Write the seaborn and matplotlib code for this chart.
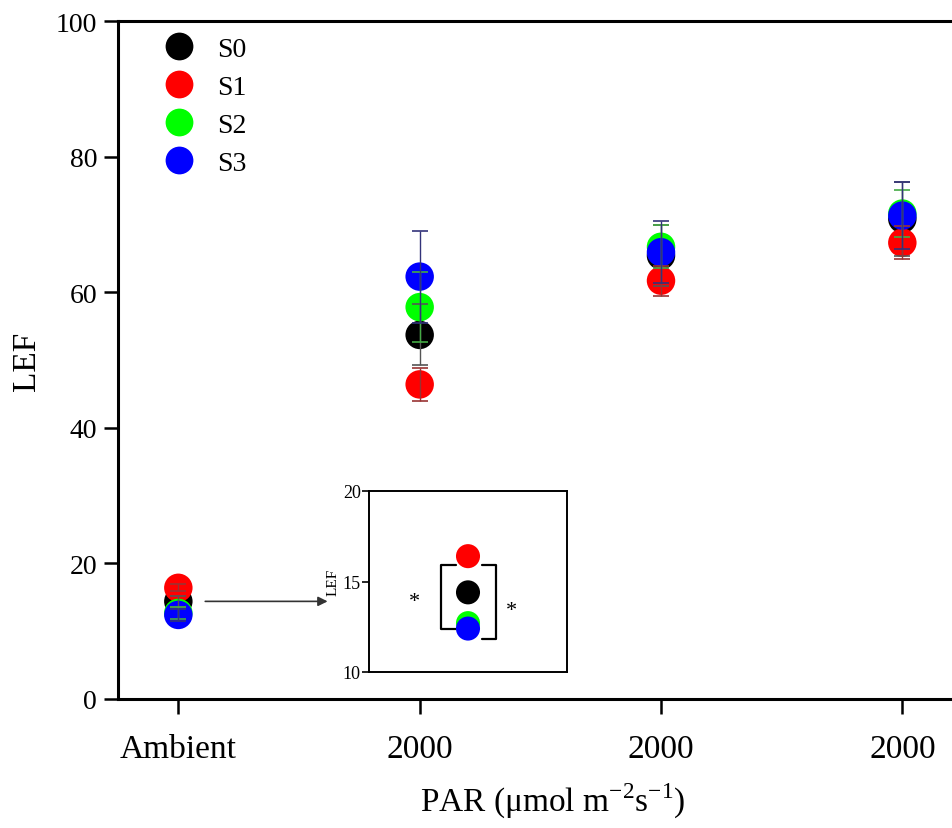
import matplotlib
matplotlib.use('Agg')
import matplotlib.pyplot as plt
from matplotlib.lines import Line2D
import seaborn as sns
import numpy as np
import pandas as pd

# 数据：四个处理在四个光强下的 LEF 均值与误差
x_labels = ['Ambient', '2000', '2000', '2000']
series = ['S0', 'S1', 'S2', 'S3']
colors = {'S0': '#000000', 'S1': '#ff0000', 'S2': '#00ff00', 'S3': '#0000ff'}
err_colors = {'S0': '#555555', 'S1': '#993333', 'S2': '#44aa44', 'S3': '#33337a'}

s0_mean = [14.4, 53.7, 65.4, 70.8]
s1_mean = [16.4, 46.4, 61.7, 67.3]
s2_mean = [12.7, 57.8, 66.7, 71.6]
s3_mean = [12.4, 62.3, 65.9, 71.3]

s0_err = [0.8, 4.5, 4.5, 5.5]
s1_err = [0.5, 2.4, 2.2, 2.4]
s2_err = [0.9, 5.2, 3.2, 3.5]
s3_err = [0.9, 6.8, 4.6, 5.0]

means = {'S0': s0_mean, 'S1': s1_mean, 'S2': s2_mean, 'S3': s3_mean}
errs = {'S0': s0_err, 'S1': s1_err, 'S2': s2_err, 'S3': s3_err}

rows = []
for s in series:
    for i in range(len(x_labels)):
        rows.append({'pos': i, 'series': s, 'LEF': means[s][i], 'err': errs[s][i]})
df = pd.DataFrame(rows)

sns.set_theme(style='ticks')
plt.rcParams['font.family'] = ['Liberation Serif', 'DejaVu Serif']
plt.rcParams['mathtext.fontset'] = 'custom'
plt.rcParams['mathtext.rm'] = 'Liberation Serif'
plt.rcParams['text.color'] = 'black'
plt.rcParams['axes.labelcolor'] = 'black'
plt.rcParams['xtick.color'] = 'black'
plt.rcParams['ytick.color'] = 'black'

fig = plt.figure(figsize=(9.52, 8.29), dpi=100)
ax = fig.add_axes([118 / 952, 129 / 829, 905 / 952, 678 / 829])

sns.scatterplot(data=df, x='pos', y='LEF', hue='series', palette=colors,
                s=420, edgecolor='none', legend=False, ax=ax, zorder=3)
for s in series:
    d = df[df['series'] == s]
    ax.errorbar(d['pos'], d['LEF'], yerr=d['err'], fmt='none', ecolor=err_colors[s],
                elinewidth=1.0, capsize=6, capthick=1.2, zorder=4)

ax.set_xlim(-0.25, 3.5)
ax.set_ylim(0, 100)
ax.set_xticks(range(len(x_labels)))
ax.set_xticklabels(x_labels, fontsize=24)
ax.set_yticks(np.arange(0, 101, 20))
ax.tick_params(axis='y', labelsize=20, length=10, width=1.8, direction='out', pad=5)
ax.tick_params(axis='x', length=11, width=1.8, direction='out', pad=14)
for side in ['left', 'bottom', 'top']:
    ax.spines[side].set_linewidth(2.2)
    ax.spines[side].set_color('black')
ax.spines['right'].set_visible(False)
ax.set_xlabel('PAR (μmol m$^{-2}$s$^{-1}$)', fontsize=24)
ax.xaxis.set_label_coords(0.48, -0.12)
ax.set_ylabel('LEF', fontsize=24, labelpad=10)

handles = [Line2D([0], [0], marker='o', color='none', markerfacecolor=colors[s],
                  markeredgecolor='none', markersize=20) for s in series]
ax.legend(handles, series, loc='upper left', bbox_to_anchor=(0.021, 1.018), frameon=False,
          fontsize=20, handletextpad=0.9, labelspacing=0.45, handlelength=1.0, borderpad=0.5)

# 箭头指向放大图
ax.annotate('', xy=(0.63, 14.4), xytext=(0.1, 14.4),
            arrowprops=dict(arrowstyle='-|>', color='#333333', lw=1.2, mutation_scale=14))

# 放大插图：Ambient 下的 LEF
ins = fig.add_axes([369 / 952, 156 / 829, 198 / 952, 181 / 829])
amb = df[df['pos'] == 0].copy()
amb['pos'] = 0.0
sns.scatterplot(data=amb, x='pos', y='LEF', hue='series', palette=colors,
                s=300, edgecolor='none', legend=False, ax=ins, zorder=3)
ins.set_xlim(-1, 1)
ins.set_ylim(10, 20)
ins.set_yticks([10, 15, 20])
ins.set_xticks([])
ins.set_xlabel('')
ins.set_ylabel('LEF', fontsize=11, labelpad=2)
ins.tick_params(axis='y', labelsize=13, length=5, width=1.2, pad=1)
for sp in ins.spines.values():
    sp.set_linewidth(1.4)
    sp.set_color('black')

# 显著性括号
ins.plot([-0.12, -0.275, -0.275, -0.12], [15.9, 15.9, 12.35, 12.35], color='black', lw=1.6)
ins.plot([0.14, 0.28, 0.28, 0.14], [15.9, 15.9, 11.85, 11.85], color='black', lw=1.6)
ins.text(-0.54, 13.9, '*', fontsize=16, ha='center', va='center')
ins.text(0.44, 13.4, '*', fontsize=16, ha='center', va='center')

fig.savefig('out.png', dpi=100)
